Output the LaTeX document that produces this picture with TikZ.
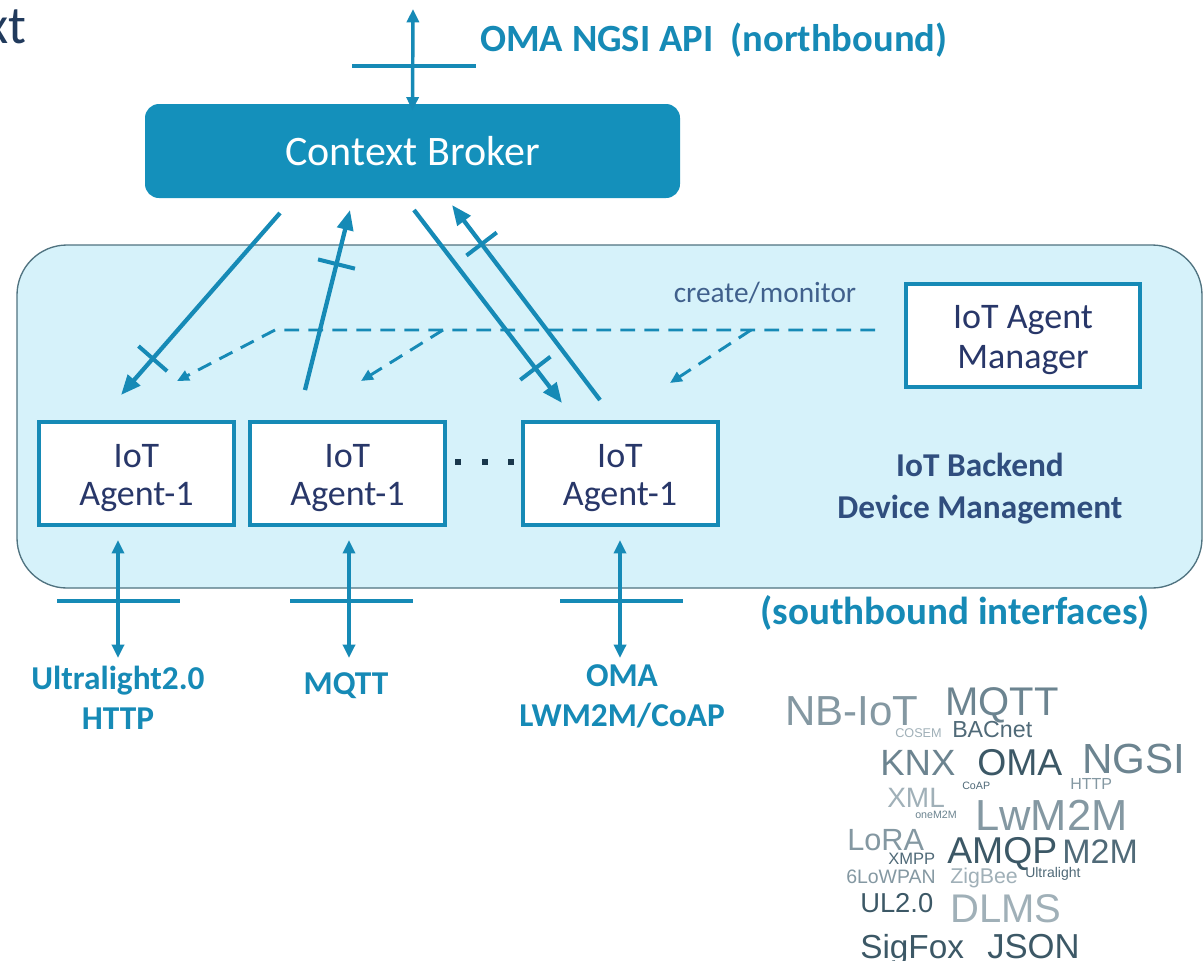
\documentclass[tikz,border=0pt]{standalone}
\usepackage{fontspec}
\setmainfont{Carlito}
\newfontfamily\cloudfont{Liberation Sans}
\usetikzlibrary{arrows.meta,decorations.markings,calc}
\definecolor{teal1}{RGB}{22,138,182}
\definecolor{cbfill}{RGB}{20,144,187}
\definecolor{bkfill}{RGB}{214,242,250}
\definecolor{bkline}{RGB}{80,115,128}
\definecolor{navy}{RGB}{40,55,105}
\definecolor{navy2}{RGB}{48,78,126}
\definecolor{titlenavy}{RGB}{33,58,92}
\definecolor{cmcol}{RGB}{64,96,140}
\definecolor{dotcol}{RGB}{25,55,75}
\definecolor{wca}{RGB}{160,176,184}
\definecolor{wcb}{RGB}{132,152,162}
\definecolor{wcc}{RGB}{108,132,144}
\definecolor{wcd}{RGB}{80,106,120}
\definecolor{wce}{RGB}{60,88,102}
\newcommand\wcf[1]{\cloudfont\fontsize{#1}{#1}\selectfont}
\newcommand\cfs[2]{\fontsize{#1}{#2}\selectfont}
\newcommand\topstrut{\rule{0pt}{23.5pt}}
\begin{document}
\begin{tikzpicture}[x=0.75pt,y=-0.75pt,
  agentbox/.style={draw=teal1, line width=3pt, fill=white, minimum width=146.25pt,
    minimum height=77.25pt, inner sep=0pt, align=center, text=navy, font=\cfs{27}{28.5}},
  solidarrow/.style={draw=teal1, line width=3.2pt, -{Triangle[length=15pt,width=12pt]}},
  vertarrow/.style={draw=teal1, line width=2.6pt,
    {Triangle[length=10pt,width=9pt]}-{Triangle[length=10pt,width=9pt]}},
  ifbar/.style={draw=teal1, line width=3.4pt},
  dashline/.style={draw=teal1, line width=2.2pt, dash pattern=on 11pt off 7pt},
  dasharrow/.style={dashline, -{Triangle[length=9pt,width=8pt]}},
  tickat/.style={postaction=decorate, decoration={markings,
    mark=at position #1 with {\draw[-, solid, teal1, line width=3pt] (0,-19) -- (0,19);}}},
  bluelabel/.style={text=teal1, font=\bfseries\cfs{25}{30}, align=center, inner sep=0pt},
  wc/.style={anchor=base west, inner sep=0pt},
  dotnode/.style={fill=dotcol, minimum size=5pt, inner sep=0pt}
]
\useasboundingbox (0,0) rectangle (1204,961);
\fill[white] (0,0) rectangle (1204,961);

% title fragment
\node[anchor=base east, inner sep=0pt, text=titlenavy, font=\cfs{40}{40}] (ttl) at (27,43) {xt};

% backend area
\node[draw=bkline, line width=1pt, fill=bkfill, rounded corners=37.5pt,
  minimum width=888.75pt, minimum height=257.25pt, inner sep=0pt] (bk) at (609.5,416.5) {};

% context broker
\node[fill=cbfill, rounded corners=10.5pt, minimum width=401.25pt, minimum height=70.5pt,
  inner sep=0pt, text=white, font=\cfs{31.5}{31.5}] (cb) at (412.5,151) {Context Broker};

% northbound
\coordinate (ntop) at (413,9);
\draw[vertarrow] ([yshift=-5pt]cb.north) -- (ntop);
\draw[ifbar] (352,66) -- (476,66);
\node[anchor=west, text=teal1, font=\bfseries\cfs{28.9}{28.9}, inner sep=0pt] (nbl) at (480,40)
  {OMA NGSI API\ \ (northbound)};

% agents
\node[agentbox] (a1) at (136.5,473.5) {\topstrut IoT\\Agent-1};
\node[agentbox] (a2) at (347.5,473.5) {\topstrut IoT\\Agent-1};
\node[agentbox] (a3) at (620,473.5) {\topstrut IoT\\Agent-1};
\node[agentbox, minimum width=175.5pt, font=\cfs{27}{30}] (mgr) at (1023,335.5)
  {\rule{0pt}{24.5pt}IoT Agent\\Manager};

\node[dotnode] (d1) at (458,462) {};
\node[dotnode] (d2) at (485,462) {};
\node[dotnode] (d3) at (511,462) {};

\node[text=cmcol, font=\cfs{22}{22}, inner sep=0pt] (cml) at (765,293) {create/monitor};
\node[text=navy2, font=\bfseries\cfs{25}{31.5}, align=center, inner sep=0pt] (bkl) at (980,489)
  {IoT Backend\\Device Management};

% dashed create/monitor lines
\coordinate (dstart) at (875,330);
\coordinate (dcorner) at (275,330);
\coordinate (dt1) at (177,381);
\coordinate (db2) at (443,330);
\coordinate (dt2) at (361,381);
\coordinate (db3) at (751,330);
\coordinate (dt3) at (670,383);
\draw[dasharrow] (dstart) -- (dcorner) -- (dt1);
\draw[dasharrow] (db2) -- (dt2);
\draw[dasharrow] (db3) -- (dt3);

% solid arrows broker <-> agents
\coordinate (s1) at (280,213); \coordinate (e1) at (121,395);
\coordinate (s2) at (305,390); \coordinate (e2) at (350,210);
\coordinate (s3) at (414,210); \coordinate (e3) at (562,403);
\coordinate (s4) at (600,400); \coordinate (e4) at (452,205);
\draw[solidarrow, tickat=0.8] (s1) -- (e1);
\draw[solidarrow, tickat=0.7] (s2) -- (e2);
\draw[solidarrow, tickat=0.82] (s3) -- (e3);
\draw[solidarrow, tickat=0.8] (s4) -- (e4);

% southbound
\coordinate (u1) at (118,658);
\coordinate (u2) at (349,658);
\coordinate (u3) at (620,658);
\draw[vertarrow] (u1) -- (118,540);
\draw[vertarrow] (u2) -- (349,540);
\draw[vertarrow] (u3) -- (620,540);
\draw[ifbar] (57,601) -- (180,601);
\draw[ifbar] (290,601) -- (413,601);
\draw[ifbar] (560,601) -- (683,601);

\node[bluelabel] (l1) at (118,698) {Ultralight2.0\\HTTP};
\node[bluelabel] (l2) at (346,686) {MQTT};
\node[bluelabel] (l3) at (622,696) {OMA\\LWM2M/CoAP};
\node[text=teal1, font=\bfseries\cfs{29.3}{29.3}, inner sep=0pt] (sbl) at (955,613)
  {(southbound interfaces)};

% word cloud
\node[wc, text=wcb, font=\wcf{31.5}] (w1) at (785,725) {NB-IoT};
\node[wc, text=wcc, font=\wcf{30}] (w2) at (945,715) {MQTT};
\node[wc, text=wca, font=\wcf{9.5}] (w3) at (895,737) {COSEM};
\node[wc, text=wcd, font=\wcf{17.4}] (w4) at (952,737) {BACnet};
\node[wc, text=wcc, font=\wcf{27.4}] (w5) at (880,775) {KNX};
\node[wc, text=wce, font=\wcf{28}] (w6) at (977,775) {OMA};
\node[wc, text=wcc, font=\wcf{31.6}] (w7) at (1082,773) {NGSI};
\node[wc, text=wcd, font=\wcf{8}] (w8) at (962,789) {CoAP};
\node[wc, text=wcb, font=\wcf{12}] (w9) at (1070,789) {HTTP};
\node[wc, text=wca, font=\wcf{21}] (w10) at (887,807) {XML};
\node[wc, text=wcc, font=\wcf{8}] (w11) at (915,818) {oneM2M};
\node[wc, text=wcb, font=\wcf{32.6}] (w12) at (975,830) {LwM2M};
\node[wc, text=wcb, font=\wcf{23}] (w13) at (847,850) {LoRA};
\node[wc, text=wcd, font=\wcf{12.4}] (w14) at (888,864) {XMPP};
\node[wc, text=wce, font=\wcf{28}] (w15) at (947,863) {AMQP};
\node[wc, text=wcd, font=\wcf{25.5}] (w16) at (1062,863) {M2M};
\node[wc, text=wcb, font=\wcf{14.6}] (w17) at (846,883) {6LoWPAN};
\node[wc, text=wca, font=\wcf{16}] (w18) at (950,883) {ZigBee};
\node[wc, text=wcd, font=\wcf{10.5}] (w19) at (1025,877) {Ultralight};
\node[wc, text=wce, font=\wcf{20.5}] (w20) at (860,912) {UL2.0};
\node[wc, text=wca, font=\wcf{30}] (w21) at (950,922) {DLMS};
\node[wc, text=wce, font=\wcf{25}] (w22) at (860,958) {SigFox};
\node[wc, text=wce, font=\wcf{26}] (w23) at (987,958) {JSON};
\end{tikzpicture}
\end{document}
